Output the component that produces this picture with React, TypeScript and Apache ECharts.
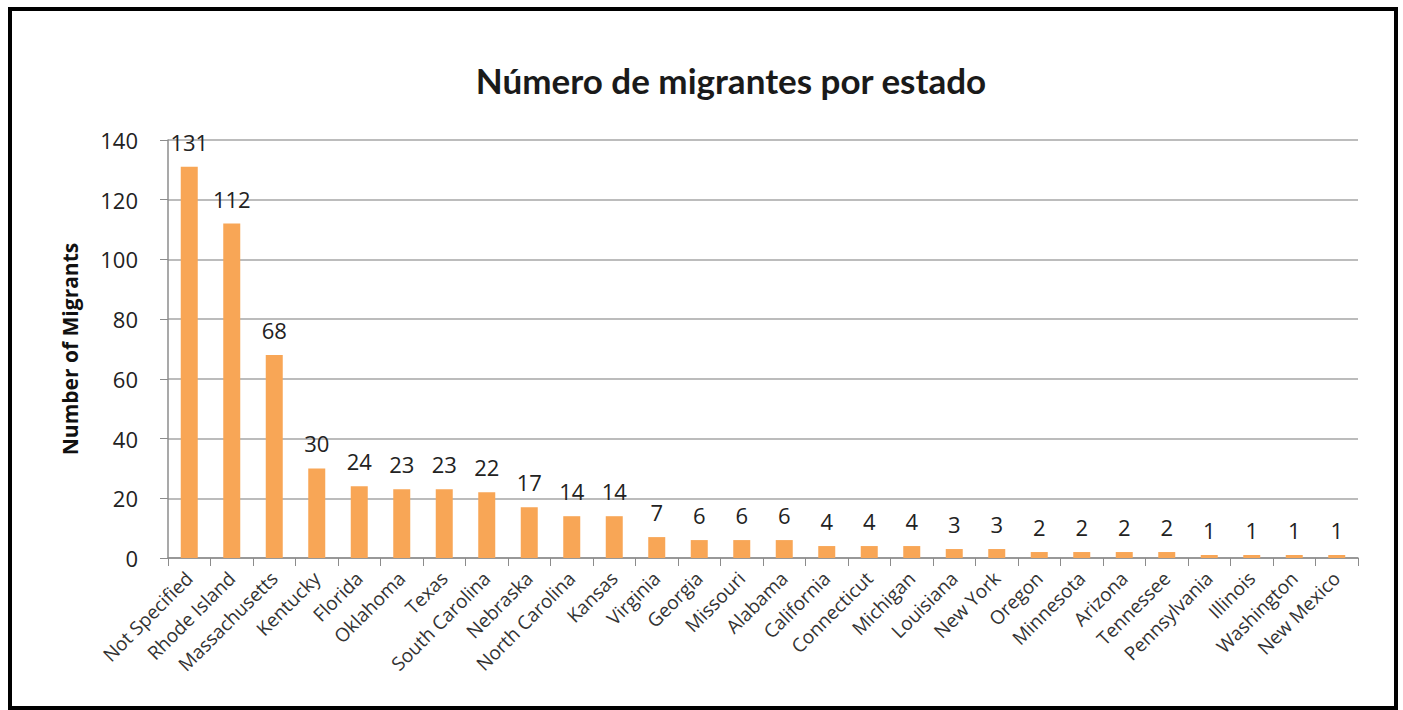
import React, { useEffect, useRef } from "react";
import * as echarts from "echarts";

const categories = [
  "Not Specified", "Rhode Island", "Massachusetts", "Kentucky", "Florida", "Oklahoma", "Texas",
  "South Carolina", "Nebraska", "North Carolina", "Kansas", "Virginia", "Georgia", "Missouri",
  "Alabama", "California", "Connecticut", "Michigan", "Louisiana", "New York", "Oregon",
  "Minnesota", "Arizona", "Tennessee", "Pennsylvania", "Illinois", "Washington", "New Mexico",
];
const migrants = [131, 112, 68, 30, 24, 23, 23, 22, 17, 14, 14, 7, 6, 6, 6, 4, 4, 4, 3, 3, 2, 2, 2, 2, 1, 1, 1, 1];
const titleText = "Número de migrantes por estado";
const yAxisName = "Number of Migrants";

export default function App() {
  const ref = useRef<HTMLDivElement>(null);
  useEffect(() => {
    const chart = echarts.init(ref.current!, null, { renderer: "svg" });
    const font = "'Open Sans', 'Liberation Sans', sans-serif";
    chart.setOption({
      animation: false,
      backgroundColor: "#ffffff",
      title: {
        text: titleText,
        left: 726,
        top: 57,
        textAlign: "center",
        textStyle: { fontFamily: "Lato, 'Open Sans', sans-serif", fontWeight: "bold", fontSize: 35, color: "#1a1a1a" },
      },
      graphic: [
        {
          type: "rect",
          shape: { x: 10, y: 9, width: 1386, height: 699 },
          style: { fill: "none", stroke: "#000", lineWidth: 4 },
          silent: true,
        },
      ],
      grid: { left: 168, right: 45, top: 140, bottom: 152 },
      xAxis: {
        type: "category",
        data: categories,
        axisLine: { lineStyle: { color: "#8c8c8c", width: 1.5 } },
        axisTick: { show: true, length: 8, alignWithLabel: false, lineStyle: { color: "#8c8c8c" } },
        axisLabel: {
          interval: 0,
          rotate: 45,
          margin: 17,
          fontFamily: font,
          fontSize: 19,
          color: "#333",
        },
      },
      yAxis: {
        type: "value",
        min: 0,
        max: 140,
        interval: 20,
        name: yAxisName,
        nameLocation: "middle",
        nameGap: 88,
        nameTextStyle: { fontFamily: font, fontWeight: "bold", fontSize: 21, color: "#111" },
        axisLine: { show: true, lineStyle: { color: "#8c8c8c", width: 1.5 } },
        axisTick: { show: true, length: 8, lineStyle: { color: "#8c8c8c" } },
        axisLabel: { margin: 30, fontFamily: font, fontSize: 22, color: "#222" },
        splitLine: { lineStyle: { color: "#a6a6a6", width: 1.5 } },
      },
      series: [
        {
          type: "bar",
          data: migrants,
          barWidth: 17,
          itemStyle: { color: "#F8A656" },
          label: {
            show: true,
            position: "top",
            distance: 14,
            fontFamily: font,
            fontSize: 22,
            color: "#222",
          },
        },
      ],
    });
    return () => chart.dispose();
  }, []);
  return <div ref={ref} style={{ position: "absolute", left: 0, top: 0, width: 1403, height: 710 }} />;
}
